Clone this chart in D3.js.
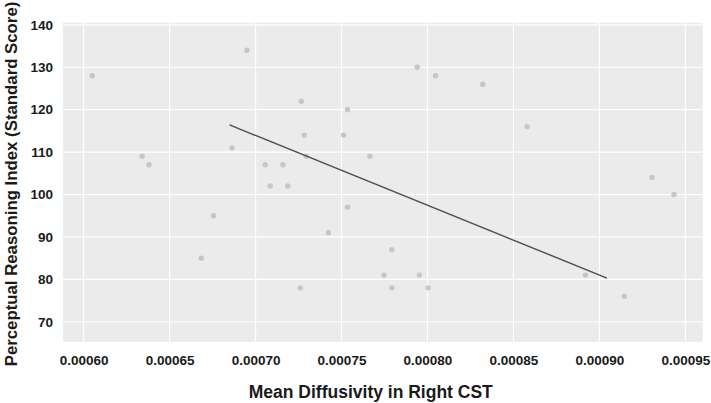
<!DOCTYPE html>
<html><head><meta charset="utf-8">
<script src="https://cdn.jsdelivr.net/npm/d3@7"></script>
<style>body{margin:0;background:#fff}svg{display:block}text{font-family:"Liberation Sans",Arial,sans-serif;font-weight:bold}</style>
</head><body><svg id="c" width="711" height="403"></svg>
<script>
const meanDiffusivity = [0.000605,0.000634,0.000638,0.0006684,0.0006756,0.0006863,0.000695,0.0007056,0.0007085,0.0007159,0.0007188,0.000726,0.0007266,0.0007283,0.0007295,0.0007424,0.0007512,0.0007535,0.0007535,0.0007665,0.0007747,0.0007793,0.0007793,0.000794,0.0007953,0.0008004,0.0008047,0.0008322,0.000858,0.0008919,0.0009145,0.0009306,0.0009434];
const perceptualReasoning = [128,109,107,85,95,111,134,107,102,107,102,78,122,114,109,91,114,120,97,109,81,87,78,130,81,78,128,126,116,81,76,104,100];
const fitX = [0.0006849,0.0009044];
const fitY = [116.4,80.3];
const xTicks = [0.00060,0.00065,0.00070,0.00075,0.00080,0.00085,0.00090,0.00095];
const yTicks = [70,80,90,100,110,120,130,140];
const xTitle = "Mean Diffusivity in Right CST";
const yTitle = "Perceptual Reasoning Index (Standard Score)";

const svg = d3.select("#c");
const L=63, R=702.7, T=22.7, B=341.7;
const x = d3.scaleLinear().domain([0.000588,0.0009601]).range([L,R]);
const y = d3.scaleLinear().domain([65.3,140.5]).range([B,T]);

svg.append("rect").attr("x",L).attr("y",T).attr("width",R-L).attr("height",B-T).attr("fill","#ebebeb");
const g = svg.append("g");
g.selectAll(".gx").data(xTicks).join("line").attr("x1",d=>x(d)).attr("x2",d=>x(d)).attr("y1",T).attr("y2",B).attr("stroke","#fff").attr("stroke-width",1.2);
g.selectAll(".gy").data(yTicks).join("line").attr("y1",d=>y(d)).attr("y2",d=>y(d)).attr("x1",L).attr("x2",R).attr("stroke","#fff").attr("stroke-width",1.2);

const xAxis = svg.append("g").attr("transform",`translate(0,${B})`).call(d3.axisBottom(x).tickValues(xTicks).tickFormat(d3.format(".5f")).tickSize(0).tickPadding(14));
xAxis.select(".domain").remove();
xAxis.selectAll("text").attr("font-size","13.5px").attr("fill","#1a1a1a").attr("font-family","Liberation Sans, Arial, sans-serif").attr("font-weight","bold");
const yAxis = svg.append("g").attr("transform",`translate(${L},0)`).call(d3.axisLeft(y).tickValues(yTicks).tickSize(0).tickPadding(10));
yAxis.select(".domain").remove();
yAxis.selectAll("text").attr("font-size","13.5px").attr("fill","#1a1a1a").attr("font-family","Liberation Sans, Arial, sans-serif").attr("font-weight","bold");

const pts = meanDiffusivity.map((d,i)=>({x:d,y:perceptualReasoning[i]}));
svg.append("g").selectAll("circle").data(pts).join("circle").attr("cx",d=>x(d.x)).attr("cy",d=>y(d.y)).attr("r",2.7).attr("fill","#c6c6c6");

svg.append("path").datum(fitX.map((d,i)=>[d,fitY[i]])).attr("d",d3.line().x(d=>x(d[0])).y(d=>y(d[1]))).attr("fill","none").attr("stroke","#4d4d4d").attr("stroke-width",1.4);

svg.append("text").attr("x",370.8).attr("y",398).attr("text-anchor","middle").attr("font-size","17.5px").attr("fill","#1a1a1a").text(xTitle);
svg.append("text").attr("transform",`translate(17,184) rotate(-90)`).attr("text-anchor","middle").attr("font-size","16.8px").attr("fill","#1a1a1a").text(yTitle);
</script></body></html>
